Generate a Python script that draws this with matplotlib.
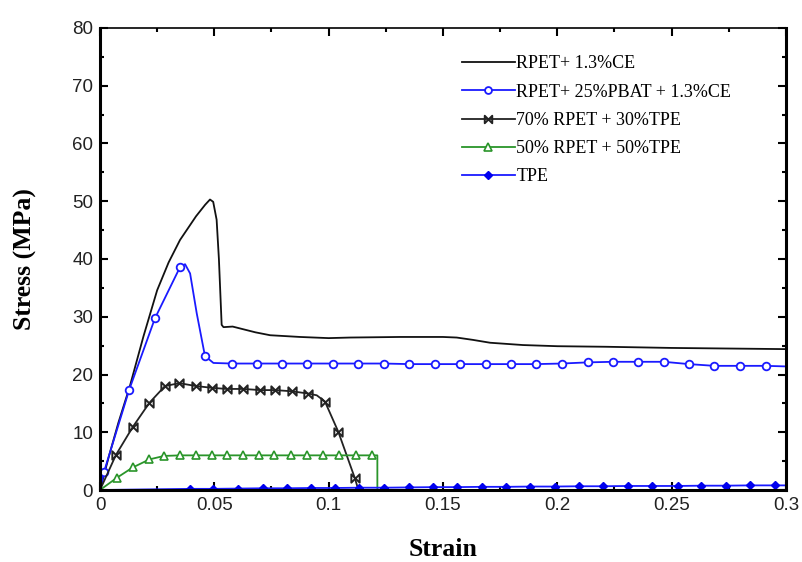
import matplotlib
matplotlib.use("Agg")
import matplotlib.pyplot as plt
from matplotlib.path import Path
from matplotlib.ticker import MultipleLocator
import numpy as np

# RPET + 1.3%CE (plain black line)
ce_x = [0, 0.004, 0.008, 0.013, 0.019, 0.025, 0.030, 0.035, 0.042, 0.046, 0.0481, 0.0495,
        0.051, 0.052, 0.0532, 0.054, 0.058, 0.062, 0.068, 0.0744, 0.0875, 0.1, 0.1093,
        0.131, 0.15, 0.156, 0.163, 0.1706, 0.185, 0.2, 0.2216, 0.25, 0.2988, 0.3]
ce_y = [0, 6.0, 11.6, 17.9, 26.6, 34.6, 39.4, 43.3, 47.4, 49.4, 50.3, 49.9,
        46.8, 40.0, 28.6, 28.2, 28.3, 27.9, 27.3, 26.8, 26.5, 26.3, 26.4,
        26.5, 26.5, 26.4, 26.0, 25.5, 25.1, 24.9, 24.8, 24.6, 24.4, 24.4]

# RPET + 25%PBAT + 1.3%CE (blue, open circles)
pbat_x = [0, 0.0018, 0.0128, 0.024, 0.035, 0.0372, 0.0394, 0.0423, 0.0459, 0.0496,
          0.0576, 0.0685, 0.0795, 0.0907, 0.1018, 0.113, 0.1242, 0.1353, 0.1465,
          0.1574, 0.1687, 0.1796, 0.1907, 0.202, 0.2133, 0.2242, 0.2354, 0.2466,
          0.2576, 0.2686, 0.2799, 0.2911, 0.3]
pbat_y = [0, 3.2, 17.4, 29.7, 38.6, 39.1, 37.5, 30.6, 23.2, 22.0,
          21.9, 21.9, 21.9, 21.9, 21.9, 21.9, 21.9, 21.8, 21.8,
          21.8, 21.8, 21.8, 21.8, 21.9, 22.1, 22.2, 22.2, 22.2,
          21.8, 21.5, 21.5, 21.5, 21.4]
pbat_marks = [1, 2, 3, 4, 8] + list(range(10, 32))

# 70% RPET + 30%TPE (black, bowtie)
tpe30_x = [0, 0.007, 0.0143, 0.0216, 0.0284, 0.0347, 0.042, 0.0488, 0.0554, 0.0627,
           0.070, 0.0765, 0.0838, 0.0911, 0.0948, 0.0984, 0.1042, 0.1115, 0.113]
tpe30_y = [0, 6.1, 10.9, 15.1, 18.0, 18.5, 18.0, 17.7, 17.5, 17.5,
           17.3, 17.3, 17.1, 16.7, 16.4, 15.3, 10.1, 2.0, 0]
tpe30_marks = list(range(1, 14)) + [15, 16, 17]

# 50% RPET + 50%TPE (green, open triangles)
tpe50_x = [0, 0.0073, 0.0143, 0.0216, 0.028, 0.035, 0.042, 0.0488, 0.0557, 0.0627,
           0.0695, 0.0762, 0.0834, 0.0907, 0.0977, 0.1047, 0.112, 0.1188, 0.1213, 0.1213]
tpe50_y = [0, 2.1, 3.9, 5.3, 5.9, 6.0, 6.0, 6.0, 6.0, 6.0,
           6.0, 6.0, 6.0, 6.0, 6.0, 6.0, 6.0, 6.0, 6.0, 0]
tpe50_marks = list(range(1, 18))

# TPE (blue, filled diamonds)
tpe_x = [0, 0.0392, 0.0495, 0.0604, 0.0712, 0.0819, 0.0922, 0.1027, 0.1134, 0.1243,
         0.135, 0.1458, 0.1563, 0.167, 0.1777, 0.1882, 0.199, 0.2093, 0.22, 0.2309,
         0.2416, 0.2526, 0.2629, 0.2736, 0.2841, 0.2952, 0.3]
tpe_y = [0, 0.2, 0.2, 0.25, 0.3, 0.3, 0.35, 0.35, 0.4, 0.4,
         0.45, 0.5, 0.5, 0.55, 0.55, 0.6, 0.6, 0.65, 0.65, 0.7,
         0.7, 0.7, 0.75, 0.75, 0.8, 0.8, 0.8]
tpe_marks = list(range(1, 26))

labels = ['RPET+ 1.3%CE', 'RPET+ 25%PBAT + 1.3%CE', '70% RPET + 30%TPE',
          '50% RPET + 50%TPE', 'TPE']

bowtie = Path([(-1, -1), (-1, 1), (1, -1), (1, 1), (-1, -1)],
              [Path.MOVETO, Path.LINETO, Path.LINETO, Path.LINETO, Path.CLOSEPOLY])

fig = plt.figure(figsize=(8.02, 5.62), dpi=100)
ax = fig.add_axes([0.1247, 0.1281, 0.8553, 0.8221])

ax.plot(ce_x, ce_y, color='#111111', lw=1.3, label=labels[0])
ax.plot(pbat_x, pbat_y, color='#1a1aff', lw=1.3, marker='o', markersize=5.5,
        markerfacecolor='white', markeredgewidth=1.3, markevery=pbat_marks, label=labels[1])
ax.plot(tpe30_x, tpe30_y, color='#222222', lw=1.3, marker=bowtie, markersize=6,
        markerfacecolor='none', markeredgewidth=1.4, markevery=tpe30_marks, label=labels[2])
ax.plot(tpe50_x, tpe50_y, color='#2a952a', lw=1.3, marker='^', markersize=6,
        markerfacecolor='white', markeredgewidth=1.2, markevery=tpe50_marks, label=labels[3])
ax.plot(tpe_x, tpe_y, color='#1a1aff', lw=1.3, marker='D', markersize=4.5,
        markerfacecolor='#0000ee', markeredgecolor='#0000ee', markevery=tpe_marks, label=labels[4])

ax.set_xlim(0, 0.3)
ax.set_ylim(0, 80)
ax.xaxis.set_major_locator(MultipleLocator(0.05))
ax.xaxis.set_minor_locator(MultipleLocator(0.025))
ax.yaxis.set_major_locator(MultipleLocator(10))
ax.yaxis.set_minor_locator(MultipleLocator(5))
ax.set_xticks([0, 0.05, 0.1, 0.15, 0.2, 0.25, 0.3])
ax.set_xticklabels(['0', '0.05', '0.1', '0.15', '0.2', '0.25', '0.3'])

ax.tick_params(which='both', direction='in', top=True, right=True, width=1.5,
               labelsize=13.5, labelcolor='#222222', pad=5)
ax.tick_params(which='major', length=6)
ax.tick_params(which='minor', length=3)
for lab in ax.get_xticklabels() + ax.get_yticklabels():
    lab.set_family('Liberation Sans')
for side in ['left', 'bottom', 'right']:
    ax.spines[side].set_linewidth(2.2)
ax.spines['top'].set_linewidth(1.2)

ax.set_xlabel('Strain', family='Liberation Serif', fontweight='bold', fontsize=18.5, labelpad=17)
ax.set_ylabel('Stress (MPa)', family='Liberation Serif', fontweight='bold', fontsize=18.5, labelpad=25)

leg = ax.legend(loc='upper left', bbox_to_anchor=(0.515, 0.96), frameon=False,
                prop={'family': 'Liberation Serif', 'size': 13}, handlelength=2.9,
                handletextpad=0.1, labelspacing=0.62, borderpad=0, numpoints=1,
                markerscale=0.9)

fig.savefig('out.png', dpi=100)
